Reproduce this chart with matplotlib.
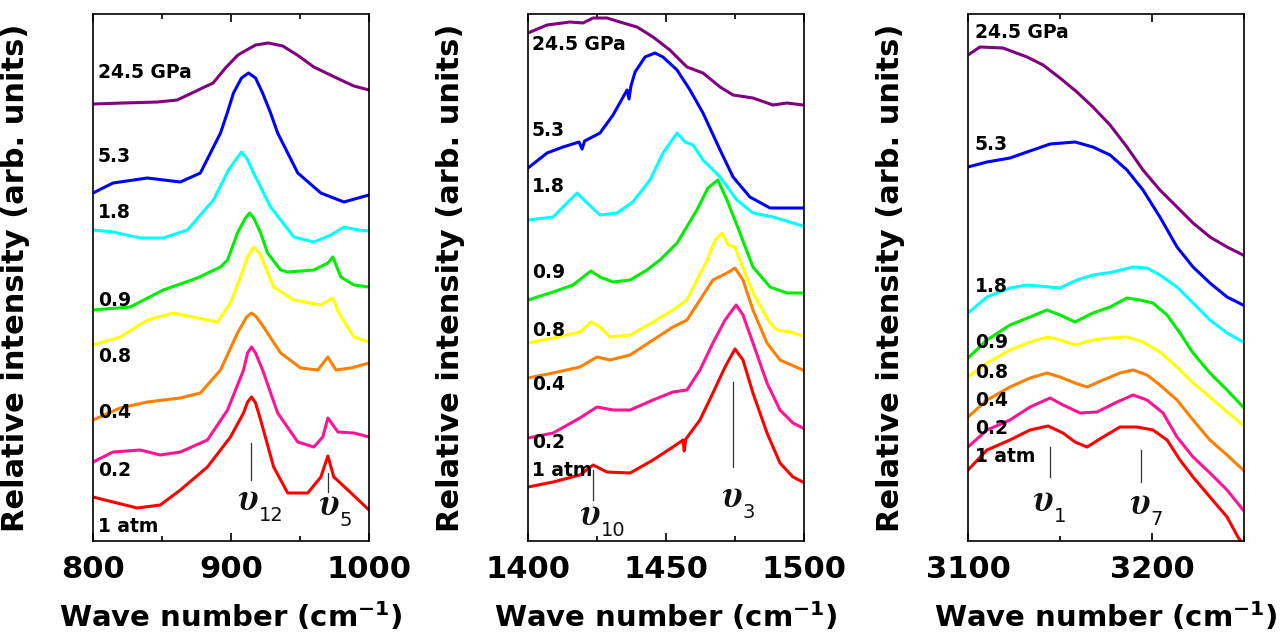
import numpy as np
import matplotlib
matplotlib.use('Agg')
from matplotlib import pyplot as plt
from matplotlib.ticker import MultipleLocator

# pressure labels and colours (top to bottom)
labels = ['24.5 GPa', '5.3', '1.8', '0.9', '0.8', '0.4', '0.2', '1 atm']
colors = ['#800080', '#0000ff', '#00ffff', '#00ee00', '#ffff00', '#ff8000', '#ff1493', '#ff0000']

# ---- panel 1 : 800-1000 cm-1 ----
p1_purple_x = [800, 822, 847, 861, 887, 896, 905, 917.8, 927, 937.5, 948, 960, 975, 989, 1000]
p1_purple_y = [437, 438, 439, 441, 458, 473, 486, 496, 498, 495, 486, 474, 464, 455, 451]
p1_blue_x = [800, 814.5, 839.3, 863.3, 877.8, 892.4, 897.5, 901.8, 907.6, 912.7, 917.8, 922.9, 928.7, 933.8, 948.4, 965.1, 981.8, 1000]
p1_blue_y = [348, 358, 363, 359, 368, 408, 429, 448, 463, 468, 463, 448, 428, 408, 368, 348, 339, 346]
p1_cyan_x = [800, 814.5, 834.2, 850.9, 868.4, 887.3, 898.2, 903.3, 907.6, 911.3, 916.4, 928.7, 945.5, 960, 972.4, 981.8, 992, 1000]
p1_cyan_y = [311, 309, 303, 303, 311, 341, 371, 381, 389, 383, 368, 334, 304, 299, 306, 314, 311, 310]
p1_green_x = [800, 826.9, 850.9, 875.6, 892.4, 897.5, 904.7, 910.5, 913.5, 916.5, 921.5, 926.5, 936, 941.1, 960, 970.2, 973.8, 979.6, 989.1, 1000]
p1_green_y = [231, 234, 251, 263, 274, 281, 308, 323, 328, 323, 308, 288, 271, 269, 271, 278, 284, 264, 256, 254]
p1_yellow_x = [800, 819.6, 839.3, 858.2, 875.6, 890.2, 899.6, 906.9, 912, 916.4, 920.5, 922.9, 930.9, 945.5, 965.1, 973.8, 978.2, 989.1, 1000]
p1_yellow_y = [196, 204, 221, 228, 223, 219, 238, 264, 284, 294, 288, 281, 254, 241, 236, 243, 228, 204, 199]
p1_orange_x = [800, 819.6, 839.3, 863.3, 877.8, 892.4, 904.7, 911.3, 914.9, 918.5, 923.6, 936, 950.5, 962.9, 970.2, 976, 986.9, 1000]
p1_orange_y = [121, 133, 139, 143, 148, 171, 208, 224, 228, 224, 214, 188, 173, 171, 184, 171, 173, 178]
p1_pink_x = [800, 814.5, 834.2, 848.7, 863.3, 882.9, 897.5, 909.1, 912, 914.9, 917.8, 922.9, 933.8, 948.4, 960, 966.5, 970.2, 977.5, 989.1, 1000]
p1_pink_y = [79, 89, 91, 86, 89, 101, 131, 171, 188, 194, 188, 171, 128, 99, 94, 104, 123, 109, 108, 104]
p1_red_x = [800, 814.5, 832, 848.7, 863.3, 882.9, 899.6, 909.1, 912, 914.9, 917.8, 921.5, 930.9, 941.1, 955.6, 965.1, 970.2, 974.5, 984.7, 1000]
p1_red_y = [44, 39, 33, 36, 51, 74, 104, 128, 139, 144, 138, 121, 74, 48, 48, 64, 85, 64, 51, 31]

# ---- panel 2 : 1400-1500 cm-1 ----
p2_purple_x = [1400, 1406.9, 1415.2, 1419.9, 1423.6, 1428.6, 1433.3, 1439.5, 1445.3, 1451.4, 1457.6, 1463.4, 1469.6, 1474.3, 1481.5, 1488.8, 1493.8, 1499.6]
p2_purple_y = [508, 516, 519, 518, 523, 523, 519, 514, 504, 491, 474, 468, 454, 446, 443, 436, 438, 436]
p2_blue_x = [1400, 1406.9, 1412.7, 1418.5, 1419.6, 1420.5, 1426.1, 1430.8, 1435.9, 1436.6, 1437.3, 1438.8, 1442.4, 1446, 1448.9, 1454, 1458.7, 1463.4, 1469.6, 1474.3, 1480.4, 1487.7, 1499.6]
p2_blue_y = [373, 388, 394, 399, 392, 400, 408, 426, 451, 442, 455, 469, 484, 488, 484, 471, 451, 428, 391, 364, 344, 333, 333]
p2_cyan_x = [1400, 1409.1, 1414.1, 1417.8, 1421.4, 1426.1, 1432.2, 1438, 1444.2, 1448.9, 1454, 1456.9, 1459.8, 1463.4, 1469.6, 1475.7, 1481.5, 1488.8, 1499.6]
p2_cyan_y = [321, 324, 338, 348, 338, 326, 328, 339, 361, 388, 408, 399, 396, 381, 364, 341, 328, 324, 315]
p2_green_x = [1400, 1409.1, 1416.3, 1422.8, 1426.1, 1430.8, 1437, 1443.1, 1447.8, 1454, 1461.2, 1465.2, 1468.8, 1472.1, 1476.8, 1481.5, 1487.7, 1493.8, 1499.6]
p2_green_y = [241, 249, 256, 270, 264, 259, 261, 271, 281, 298, 331, 353, 361, 341, 308, 274, 254, 248, 248]
p2_yellow_x = [1400, 1409.1, 1418.8, 1422.8, 1426.1, 1429.7, 1437, 1445.3, 1452.5, 1457.6, 1461.2, 1464.9, 1467.8, 1470.3, 1472.5, 1475, 1476.8, 1481.5, 1487.7, 1490.2, 1494.9, 1499.6]
p2_yellow_y = [198, 203, 209, 219, 214, 204, 206, 219, 231, 241, 261, 281, 301, 308, 296, 294, 281, 248, 218, 211, 209, 205]
p2_orange_x = [1400, 1409.1, 1418.8, 1425, 1429.7, 1437, 1445.3, 1452.5, 1457.6, 1462.3, 1467, 1472.1, 1475, 1477.9, 1481.5, 1486.6, 1491.3, 1499.6]
p2_orange_y = [163, 168, 174, 184, 181, 186, 201, 214, 221, 241, 261, 268, 273, 261, 231, 198, 181, 171]
p2_pink_x = [1400, 1409.1, 1418.8, 1425, 1430.8, 1437, 1445.3, 1452.5, 1457.6, 1462.3, 1467, 1471.4, 1475.4, 1477.9, 1481.5, 1486.6, 1491.3, 1496, 1499.6]
p2_pink_y = [103, 108, 123, 134, 131, 131, 141, 149, 151, 171, 198, 221, 236, 226, 198, 158, 131, 118, 113]
p2_red_x = [1400, 1409.1, 1418.8, 1423.6, 1428.6, 1437, 1445.3, 1452.5, 1456.2, 1456.6, 1457.2, 1462.3, 1467, 1471.4, 1475, 1477.9, 1481.5, 1486.6, 1491.3, 1496, 1499.6]
p2_red_y = [54, 59, 66, 76, 69, 68, 81, 94, 101, 90, 102, 121, 148, 174, 192, 181, 148, 108, 78, 64, 59]

# ---- panel 3 : 3100-3250 cm-1 ----
p3_purple_x = [3100, 3106.5, 3119, 3132.1, 3140.8, 3150, 3159.2, 3167.9, 3177.2, 3186.4, 3195.1, 3204.3, 3213.6, 3222.3, 3231.5, 3240.8, 3249.5]
p3_purple_y = [486, 494, 493, 484, 476, 463, 449, 434, 416, 394, 371, 351, 334, 318, 304, 294, 286]
p3_blue_x = [3100, 3110.3, 3122.8, 3132.1, 3144.6, 3158.2, 3167.9, 3177.2, 3186.4, 3195.1, 3204.3, 3213.6, 3222.3, 3231.5, 3240.8, 3249.5]
p3_blue_y = [374, 379, 383, 389, 397, 399, 394, 386, 371, 351, 324, 294, 274, 258, 244, 236]
p3_cyan_x = [3100, 3110.3, 3122.8, 3132.1, 3144.6, 3150, 3159.2, 3167.9, 3178.8, 3189.7, 3197.3, 3204.3, 3213.6, 3222.3, 3231.5, 3240.8, 3249.5]
p3_cyan_y = [228, 244, 253, 256, 254, 253, 261, 266, 269, 274, 273, 266, 254, 238, 221, 208, 199]
p3_green_x = [3100, 3110.3, 3122.8, 3133.7, 3142.9, 3150, 3158.2, 3167.9, 3177.2, 3186.4, 3193.5, 3200.5, 3208.2, 3215.2, 3222.3, 3231.5, 3240.8, 3249.5]
p3_green_y = [183, 201, 216, 224, 231, 226, 219, 228, 234, 243, 241, 238, 226, 208, 188, 168, 151, 134]
p3_yellow_x = [3100, 3110.3, 3122.8, 3133.7, 3143.5, 3150, 3158.2, 3167.9, 3177.2, 3186.4, 3195.1, 3204.3, 3213.6, 3222.3, 3231.5, 3240.8, 3249.5]
p3_yellow_y = [164, 178, 191, 199, 204, 201, 196, 201, 203, 204, 199, 189, 174, 158, 144, 129, 116]
p3_orange_x = [3100, 3110.3, 3122.8, 3133.7, 3142.9, 3150, 3158.2, 3164.7, 3173.4, 3182.6, 3189.7, 3197.3, 3204.3, 3213.6, 3222.3, 3231.5, 3240.8, 3249.5]
p3_orange_y = [124, 141, 154, 163, 168, 164, 158, 154, 161, 168, 171, 166, 156, 141, 121, 101, 86, 71]
p3_pink_x = [3100, 3110.3, 3122.8, 3133.7, 3144.6, 3151.6, 3160.9, 3170.1, 3181, 3189.7, 3197.3, 3206, 3213.6, 3222.3, 3231.5, 3240.8, 3249.5]
p3_pink_y = [94, 111, 121, 134, 143, 136, 128, 129, 139, 146, 141, 128, 104, 84, 68, 51, 31]
p3_red_x = [3100, 3110.3, 3122.8, 3133.7, 3143.5, 3151.6, 3158.2, 3164.7, 3173.4, 3182.6, 3191.8, 3200.5, 3208.2, 3215.2, 3222.3, 3231.5, 3240.8, 3246.7, 3252]
p3_red_y = [71, 91, 101, 111, 115, 108, 99, 94, 104, 114, 114, 111, 101, 81, 64, 44, 24, 4, -10]

panels = [
    dict(xlim=(800, 1000), major=100, minor=50,
         xs=[p1_purple_x, p1_blue_x, p1_cyan_x, p1_green_x, p1_yellow_x, p1_orange_x, p1_pink_x, p1_red_x],
         ys=[p1_purple_y, p1_blue_y, p1_cyan_y, p1_green_y, p1_yellow_y, p1_orange_y, p1_pink_y, p1_red_y],
         lab_x=803.6, lab_y=[469, 384, 328, 241, 184, 128, 71, 14],
         modes=[('12', 914.2, 98, 61, 905.4, 42), ('5', 970.2, 68, 49, 963.6, 37)]),
    dict(xlim=(1400, 1500), major=50, minor=25,
         xs=[p2_purple_x, p2_blue_x, p2_cyan_x, p2_green_x, p2_yellow_x, p2_orange_x, p2_pink_x, p2_red_x],
         ys=[p2_purple_y, p2_blue_y, p2_cyan_y, p2_green_y, p2_yellow_y, p2_orange_y, p2_pink_y, p2_red_y],
         lab_x=1401.4, lab_y=[496, 411, 354, 269, 211, 156, 99, 71],
         modes=[('10', 1423.6, 71, 41, 1418.8, 27), ('3', 1474.3, 159, 74, 1470.3, 45)]),
    dict(xlim=(3100, 3250), major=100, minor=50,
         xs=[p3_purple_x, p3_blue_x, p3_cyan_x, p3_green_x, p3_yellow_x, p3_orange_x, p3_pink_x, p3_red_x],
         ys=[p3_purple_y, p3_blue_y, p3_cyan_y, p3_green_y, p3_yellow_y, p3_orange_y, p3_pink_y, p3_red_y],
         lab_x=3103.8, lab_y=[509, 396, 254, 198, 169, 141, 113, 84],
         modes=[('1', 3144.6, 94, 64, 3135.3, 41), ('7', 3194.0, 91, 59, 3188.0, 38)]),
]

plt.rcParams['font.family'] = 'DejaVu Sans'
plt.rcParams['font.weight'] = 'bold'

fig = plt.figure(figsize=(12.84, 6.4), dpi=100)
lefts = [93, 528, 968]

for left, p in zip(lefts, panels):
    ax = fig.add_axes([left / 1284, 99 / 640, 276 / 1284, 527 / 640])
    for x, y, c in zip(p['xs'], p['ys'], colors):
        ax.plot(x, y, color=c, lw=2.2, solid_joinstyle='round')
    for lab, ly in zip(labels, p['lab_y']):
        ax.text(p['lab_x'], ly, lab, fontsize=13.5, fontweight='bold', ha='left', va='center')
    for sub, lx, y0, y1, tx, ty in p['modes']:
        ax.plot([lx, lx], [y0, y1], color='#333333', lw=0.9)
        ax.text(tx, ty, r'$\upsilon$', fontsize=28, ha='left', va='center',
                math_fontfamily='stix', color='#111111')
        ax.annotate(sub, xy=(tx, ty), xytext=(15, -12), textcoords='offset points',
                    fontsize=14, fontweight='normal', ha='left', va='center', color='#111111')
    ax.set_xlim(*p['xlim'])
    ax.set_ylim(0, 527)
    ax.xaxis.set_major_locator(MultipleLocator(p['major']))
    ax.xaxis.set_minor_locator(MultipleLocator(p['minor']))
    ax.set_yticks([])
    ax.tick_params(axis='x', which='both', direction='in', top=True, width=1.2)
    ax.tick_params(axis='x', which='major', length=6, labelsize=22, pad=10)
    ax.tick_params(axis='x', which='minor', length=3.5)
    for s in ax.spines.values():
        s.set_linewidth(1.2)
    ax.set_xlabel(r'Wave number (cm$^{\mathbf{-1}}$)', fontsize=21, fontweight='bold', labelpad=12)
    ax.set_ylabel('Relative intensity (arb. units)', fontsize=22, fontweight='bold')
    ax.yaxis.set_label_coords(-0.228, 0.5)

fig.savefig('out.png', dpi=100)
